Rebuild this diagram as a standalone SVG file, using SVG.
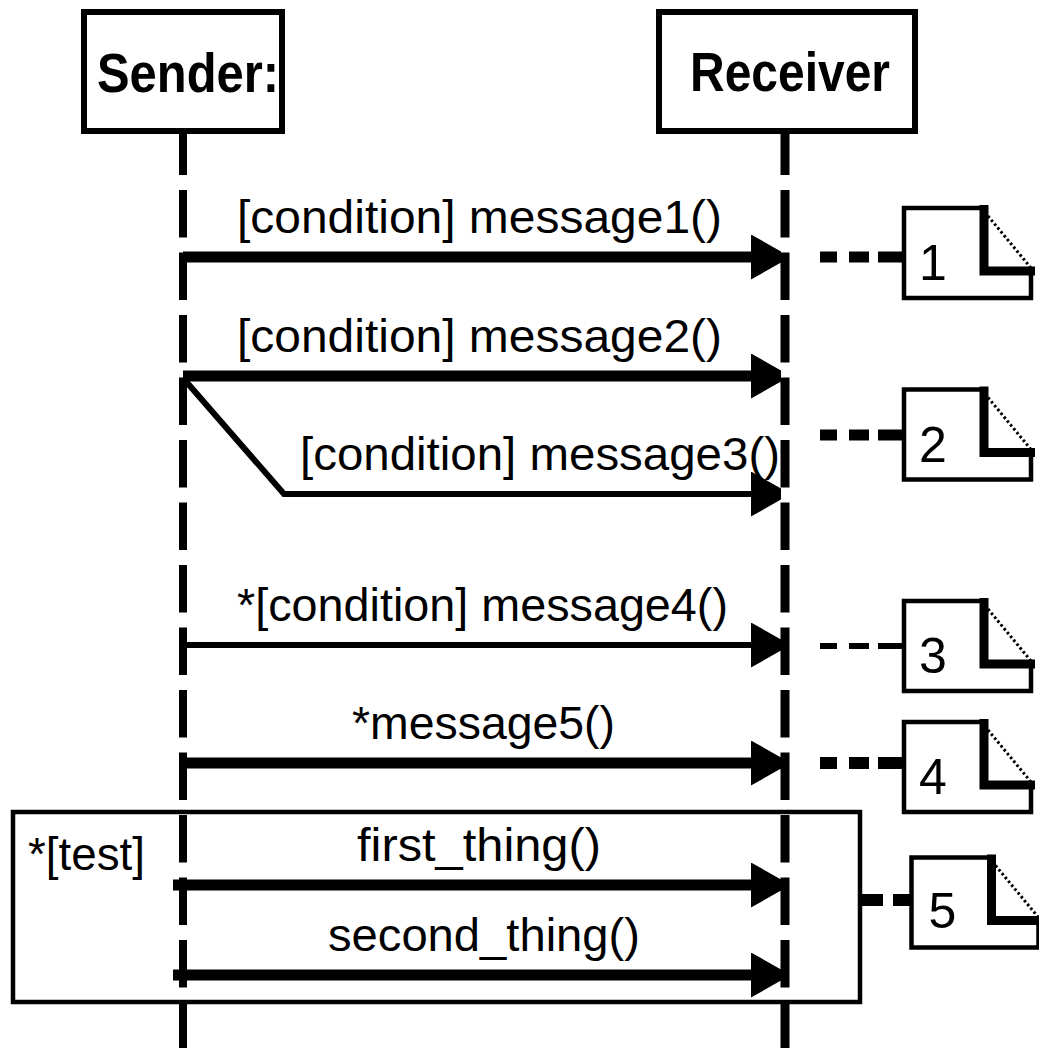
<svg xmlns="http://www.w3.org/2000/svg" width="1039" height="1048" viewBox="0 0 1039 1048">
  <defs>
    <style>
      .bg { fill: #ffffff; }
      .obj { fill: #ffffff; stroke: #000000; stroke-width: 6; }
      .objname { font-family: "Liberation Sans", Arial, sans-serif; font-weight: bold; font-size: 56px; fill: #000000; }
      .lifeline { fill: none; stroke: #000000; stroke-dasharray: 47.5 15; }
      .msg { fill: none; stroke: #000000; marker-end: url(#head); }
      .thick { stroke-width: 11; }
      .thin { stroke-width: 6; }
      .label { font-family: "Liberation Sans", Arial, sans-serif; font-size: 47px; fill: #000000; }
      .anchor { fill: none; stroke: #000000; stroke-dasharray: 17 12 20 9 40; }
      .note-outline { fill: none; stroke: #000000; stroke-width: 4.5; }
      .note-fold { fill: none; stroke: #000000; stroke-width: 9; }
      .note-edge { fill: none; stroke: #000000; stroke-width: 3; stroke-dasharray: 2.5 2.5; }
      .note-text { font-family: "Liberation Sans", Arial, sans-serif; font-size: 50px; fill: #000000; }
      .frame { fill: none; stroke: #000000; stroke-width: 4.5; }
    </style>
    <marker id="head" markerUnits="userSpaceOnUse" viewBox="0 0 30 45" refX="30" refY="22.5" markerWidth="30" markerHeight="45" orient="auto">
      <path d="M0,0 L30,17 L30,28 L0,45 Z" fill="#000000"/>
    </marker>
    <!-- note symbol with folded corner, origin at top-left -->
    <g id="note-shape">
      <path class="note-outline" d="M80,0 H0 V90 H127 V63"/>
      <path class="note-fold" d="M80,-3 V63 H131"/>
      <path class="note-edge" d="M84,8 L127,60"/>
    </g>
  </defs>

  <rect class="bg" x="0" y="0" width="1039" height="1048"/>

  <!-- lifelines -->
  <g id="lifelines">
    <path class="lifeline" d="M183,127.5 V1048" stroke-width="8"/>
    <path class="lifeline" d="M785,127.5 V1048" stroke-width="9"/>
  </g>

  <!-- participants -->
  <g id="sender">
    <rect class="obj" x="84" y="12" width="198" height="119"/>
    <text class="objname" x="97" y="92" textLength="182" lengthAdjust="spacingAndGlyphs">Sender:</text>
  </g>
  <g id="receiver">
    <rect class="obj" x="659" y="12" width="256" height="119"/>
    <text class="objname" x="690" y="91" textLength="200" lengthAdjust="spacingAndGlyphs">Receiver</text>
  </g>

  <!-- iteration frame -->
  <g id="frame-test">
    <rect class="frame" x="13" y="812" width="847" height="190"/>
    <text class="label" x="28" y="870" textLength="117" lengthAdjust="spacingAndGlyphs">*[test]</text>
  </g>

  <!-- messages and note anchors -->
  <g id="connectors">
    <path class="msg thick" d="M183,257 H781"/>
    <path class="msg thick" d="M183,376 H781"/>
    <path class="msg thin" d="M183,378 L284,494 H781"/>
    <path class="msg thin" d="M183,645 H781"/>
    <path class="msg thick" d="M183,763 H781"/>
    <path class="msg thick" d="M173,885 H781"/>
    <path class="msg thick" d="M173,975 H781"/>

    <path class="anchor" d="M820,257 H904" stroke-width="11"/>
    <path class="anchor" d="M820,435 H904" stroke-width="11"/>
    <path class="anchor" d="M820,646 H904" stroke-width="6"/>
    <path class="anchor" d="M820,763 H904" stroke-width="12"/>
    <path d="M862,900 H883 M893,900 H911" fill="none" stroke="#000000" stroke-width="12"/>
  </g>

  <!-- message labels -->
  <g id="labels">
    <text class="label" x="237" y="233" textLength="485" lengthAdjust="spacingAndGlyphs">[condition] message1()</text>
    <text class="label" x="237" y="352" textLength="485" lengthAdjust="spacingAndGlyphs">[condition] message2()</text>
    <text class="label" x="300" y="470" textLength="480" lengthAdjust="spacingAndGlyphs">[condition] message3()</text>
    <text class="label" x="237" y="621" textLength="491" lengthAdjust="spacingAndGlyphs">*[condition] message4()</text>
    <text class="label" x="352" y="739" textLength="263" lengthAdjust="spacingAndGlyphs">*message5()</text>
    <text class="label" x="357" y="861" textLength="244" lengthAdjust="spacingAndGlyphs">first_thing()</text>
    <text class="label" x="328" y="951" textLength="312" lengthAdjust="spacingAndGlyphs">second_thing()</text>
  </g>

  <!-- notes -->
  <g id="note-1" transform="translate(904,208)">
    <use href="#note-shape"/>
    <text class="note-text" x="15" y="72">1</text>
  </g>
  <g id="note-2" transform="translate(904,389.5)">
    <use href="#note-shape"/>
    <text class="note-text" x="15" y="72">2</text>
  </g>
  <g id="note-3" transform="translate(904,601)">
    <use href="#note-shape"/>
    <text class="note-text" x="15" y="72">3</text>
  </g>
  <g id="note-4" transform="translate(904,722)">
    <use href="#note-shape"/>
    <text class="note-text" x="15" y="72">4</text>
  </g>
  <g id="note-5" transform="translate(911.5,857.5)">
    <use href="#note-shape"/>
    <text class="note-text" x="17" y="70">5</text>
  </g>
</svg>
